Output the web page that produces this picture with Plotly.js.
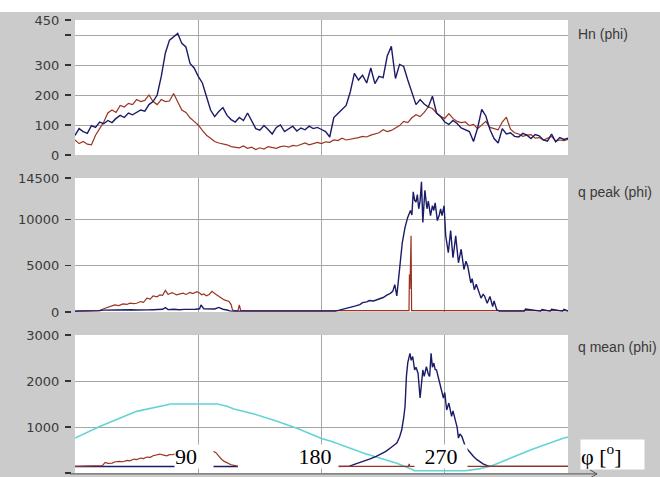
<!DOCTYPE html>
<html>
<head>
<meta charset="utf-8">
<script src="https://cdn.plot.ly/plotly-3.0.1.min.js"></script>
<style>
  html, body { margin: 0; padding: 0; background: #ffffff; width: 660px; height: 477px; overflow: hidden; }
  #chart { position: absolute; left: 0; top: 12px; width: 660px; height: 465px; }
</style>
</head>
<body>
<div id="chart"></div>
<script>
// ---------- DATA ----------
var phi = [0,3,6,9,12,15,18,21,24,27,30,33,36,39,42,45,48,51,54,57,60,63,66,69,72,75,78,81,84,87,
  90,93,96,99,102,105,108,111,114,117,120,123,126,129,132,135,138,141,144,147,150,153,156,159,162,165,168,171,174,177,
  180,183,186,189,192,195,198,201,204,207,210,213,216,219,222,225,228,231,234,237,240,243,246,249,252,255,258,261,264,267,
  270,273,276,279,282,285,288,291,294,297,300,303,306,309,312,315,318,321,324,327,330,333,336,339,342,345,348,351,354,357,360];

var hnBlue = [65,88,78,72,98,92,110,104,115,108,
  122,132,125,140,134,142,150,146,168,178,
  200,262,340,383,395,405,372,360,305,290,
  262,240,195,150,128,145,158,132,118,110,
  125,115,140,112,88,83,98,85,70,92,
  100,78,86,96,80,90,84,96,88,92,
  85,78,60,125,138,152,165,210,272,250,
  266,240,290,238,262,258,330,362,255,302,
  295,250,205,168,185,170,160,196,140,128,
  110,102,115,105,90,85,78,45,90,152,
  130,85,55,40,88,70,74,62,60,72,
  66,55,68,64,50,46,70,44,58,52,
  56];

var hnRed = [50,38,45,36,34,66,88,110,140,150,
  142,165,160,172,168,185,178,182,200,178,
  168,185,178,180,205,180,150,142,124,112,
  100,82,66,56,45,40,38,34,28,25,
  24,30,22,26,18,24,20,28,25,22,
  28,30,26,32,30,36,40,34,38,42,
  38,44,42,50,48,56,50,52,56,58,
  62,60,66,70,74,84,78,82,90,98,
  112,108,124,134,128,142,160,155,140,128,
  122,138,122,112,108,110,98,102,88,100,
  112,92,88,84,110,126,86,74,70,62,
  66,68,56,58,50,56,62,46,50,48,
  52];

var qpBluePhi = [0,15,18,21,25,29,33,37,41,45,49,53,57,61,64,66,68,72,76,80,84,88,91,92,94,98,102,105,108,111,113,116,150,190,
  193,196,199,202,205,208,210,213,215,218,220,223,225,228,230,232,233.5,235,237,239,241,243,245,246,247,248,249,250,251,252,253,254,255.5,257,258,259.6,261,262,263,264.6,266,267,268,269.5,
  270.7,272.6,274.3,276,277,278,280,282,284,285.5,286.8,289,290,291.6,293,294,296.5,298,299,301,303,305,306,308,310,328,329,340,341,347,348,356,357,360];
var qpBlue = [100,110,150,200,220,200,230,210,240,220,260,230,250,280,300,470,260,300,240,280,260,300,350,770,350,300,330,500,300,220,120,100,100,100,
  200,300,450,520,660,800,1020,1100,1240,1200,1310,1450,1570,1860,2000,2230,2960,1750,4600,7520,9160,10260,10990,10500,13000,12100,11900,12700,11170,12000,14090,9700,13180,11170,12000,10440,11500,10990,11800,9890,10500,11170,10440,11500,
  8250,6420,8800,5880,7000,8250,5330,6790,4600,5500,4960,3140,3600,2410,3000,2590,1500,1900,1750,950,1680,580,1200,220,100,100,320,100,260,100,300,100,280,100];

var qpRedPhi = [0,18,20,23,25.6,29,32,35,38,40,43,45,48,50,52.5,55,57,60,62,64,66,68,69,71,74,76,79,81,84,86,89,91,92.5,94,96,98,100,102,104,106,109,111,112.5,114,115,117,119,120,121,
  243.9,244.2,244.6,245.4,245.8,360];
var qpRed = [100,150,300,450,580,770,700,880,820,950,900,950,1130,1050,1500,1400,1750,1650,1860,1800,2340,1900,1970,2100,1860,1950,2040,1900,2120,2000,2190,2050,1860,1950,1750,1900,2230,2000,1750,1600,1310,1200,1130,800,220,150,150,770,150,
  150,4050,2500,8250,150,150];

var qmBluePhi = [0,60,119,120,186,195,200,205,210.7,215,220,224,227,231,235,237,238.6,240,241,242,243,244.6,245.5,246.6,248,249,250.5,252,253,254,255,256.6,258,259,260,261,262,263,264,265.5,266.6,268,269,270,271.4,273,274,275,276,277.5,279,280,281,282.5,284,285,287,288.6,291,293.5,296,298,301,303,360];
var qmBlue = [140,140,140,null,140,140,144,200,252,300,361,420,470,560,650,780,940,1200,1445,2100,2400,2600,2450,2530,2240,2300,2170,1630,1900,2240,2100,2310,2150,2100,2600,2300,2390,2250,2240,2050,1950,1800,1630,1750,1370,1520,1400,1230,1350,1160,1000,760,850,795,650,577,500,434,360,290,240,200,160,144,144];

var qmRedPhi = [0,18,20,22,24,27,29,32,35,38,40,43,45,48,50,52.5,55,57,60,62,64,67,69,71,74,78,82,86,90,94,98,101,102.7,104,105,107,109,111,114,117,119,120,
  186,243.5,244,244.5,360];
var qmRed = [144,144,160,230,210,216,240,252,245,274,265,303,290,325,315,347,340,375,390,412,395,375,400,397,420,410,430,420,440,430,450,470,447,400,360,300,252,220,180,160,144,null,
  144,144,200,144,144];

var cyanPhi = [0,18,45,70,104,111,116,130,147,163,180,187,211,235,245,248,285,295,304,333,357,360];
var cyanVal = [760,1010,1340,1500,1500,1450,1390,1290,1130,960,750,690,430,210,90,50,50,90,150,506,760,780];

var hnTicks = [0,100,200,300,450];
var hnTickText = ['0','100','200','300','450'];
var hnMinorTicks = [400];
var qpTicks = [0,5000,10000,14500];
var qpTickText = ['0','5000','10000','14500'];
var qmTicks = [0,1000,2000,3000];
var qmTickText = ['0','1000','2000','3000'];
var phiTicks = [90,180,270];
var phiLabels = ['90','180','270'];
var panelLabels = ['Hn (phi)','q peak (phi)','q mean (phi)'];

// ---------- STYLE ----------
var BLUE = '#1b1b68', RED = '#9a3422', CYAN = '#62d4d4';
var GRID = '#a6a6a6', BG = '#cbcbcb', TXT = '#3a3a3a';

function line(x, y, xa, ya, color, w) {
  return {x: x, y: y, xaxis: xa, yaxis: ya, type: 'scatter', mode: 'lines',
          line: {color: color, width: w}, hoverinfo: 'skip', connectgaps: false, showlegend: false};
}

var traces = [
  line(phi, hnRed, 'x', 'y', RED, 1.2),
  line(phi, hnBlue, 'x', 'y', BLUE, 1.4),
  line(qpRedPhi, qpRed, 'x2', 'y2', RED, 1.2),
  line(qpBluePhi, qpBlue, 'x2', 'y2', BLUE, 1.4),
  line(cyanPhi, cyanVal, 'x3', 'y3', CYAN, 1.6),
  line(qmBluePhi, qmBlue, 'x3', 'y3', BLUE, 1.4),
  line(qmRedPhi, qmRed, 'x3', 'y3', RED, 1.2)
];

// plot area: axis line position at x=71 px, data area starts at x=75 px
var XD0 = 4 / 497;
var tickFont = {family: 'DejaVu Sans', size: 13, color: TXT};
var labelFont = {family: 'Liberation Sans, Arial, sans-serif', size: 14, color: TXT};
function yax(dom, range, tv, tt, minorVals) {
  var ax = {domain: dom, range: range, tickmode: 'array', tickvals: tv, ticktext: tt, anchor: 'free', position: 0,
          ticks: 'outside', ticklen: 6, tickwidth: 1.2, tickcolor: '#333333', tickfont: tickFont,
          ticklabelstandoff: 3,
          showgrid: true, gridcolor: GRID, gridwidth: 1, zeroline: false, showline: false, fixedrange: true};
  if (minorVals) {
    ax.minor = {tickmode: 'array', tickvals: minorVals, ticks: 'outside', ticklen: 6, tickwidth: 1.2,
                tickcolor: '#333333', showgrid: true, gridcolor: GRID, gridwidth: 1};
  }
  return ax;
}
function xax(anchor) {
  return {domain: [XD0, 1], range: [0, 360], anchor: anchor, tickmode: 'array', tickvals: phiTicks, showticklabels: false,
          ticks: '', showgrid: true, gridcolor: GRID, gridwidth: 1, zeroline: false, showline: false, fixedrange: true};
}

var serif = {family: 'Liberation Serif, Times New Roman, serif', size: 22, color: '#000'};
var annotations = [
  {xref: 'paper', yref: 'paper', x: 1.0161, y: 0.969, xanchor: 'left', yanchor: 'middle', text: panelLabels[0], showarrow: false, font: labelFont},
  {xref: 'paper', yref: 'paper', x: 1.0161, y: 0.6203, xanchor: 'left', yanchor: 'middle', text: panelLabels[1], showarrow: false, font: labelFont},
  {xref: 'paper', yref: 'paper', x: 1.0161, y: 0.2781, xanchor: 'left', yanchor: 'middle', text: panelLabels[2], showarrow: false, font: labelFont},
  {xref: 'paper', yref: 'paper', x: 0.2475, y: 0.0375, xanchor: 'center', yanchor: 'middle', text: phiLabels[0], showarrow: false,
   font: serif, bgcolor: '#ffffff', width: 38, height: 23, borderpad: 0, align: 'left'},
  {xref: 'paper', yref: 'paper', x: 0.4909, y: 0.0375, xanchor: 'center', yanchor: 'middle', text: phiLabels[1], showarrow: false,
   font: serif, bgcolor: '#ffffff', width: 46, height: 23, borderpad: 0, align: 'center'},
  {xref: 'paper', yref: 'paper', x: 0.7445, y: 0.0375, xanchor: 'center', yanchor: 'middle', text: phiLabels[2], showarrow: false,
   font: serif, bgcolor: '#ffffff', width: 52, height: 23, borderpad: 0, align: 'center'},
  {xref: 'paper', yref: 'paper', x: 1.0241, y: 0.0408, xanchor: 'left', yanchor: 'middle', text: 'φ [<sup>o</sup>]', showarrow: false,
   font: serif, bgcolor: '#ffffff', width: 63, height: 29, borderpad: 0, align: 'left'}
];

var shapes = [
  {type: 'rect', xref: 'paper', yref: 'paper', x0: XD0, x1: 1, y0: 0.702, y1: 1, fillcolor: '#ffffff', line: {width: 0}, layer: 'below'},
  {type: 'rect', xref: 'paper', yref: 'paper', x0: XD0, x1: 1, y0: 0.3554, y1: 0.6512, fillcolor: '#ffffff', line: {width: 0}, layer: 'below'},
  {type: 'rect', xref: 'paper', yref: 'paper', x0: XD0, x1: 1, y0: 0, y1: 0.3046, fillcolor: '#ffffff', line: {width: 0}, layer: 'below'},
  {type: 'line', xref: 'paper', yref: 'paper', x0: -0.002, x1: 1.0584, y0: -0.002, y1: -0.002, line: {color: '#555555', width: 1}},
  {type: 'path', xref: 'paper', yref: 'paper', path: 'M 1.0443,0.0068 L 1.0584,-0.002 L 1.0443,-0.0108', line: {color: '#555555', width: 1}}
];

var layout = {
  width: 660, height: 465,
  margin: {l: 71, r: 92, t: 8, b: 4, pad: 0},
  paper_bgcolor: BG, plot_bgcolor: 'rgba(0,0,0,0)',
  showlegend: false,
  xaxis: xax('y'), xaxis2: xax('y2'), xaxis3: xax('y3'),
  yaxis: yax([0.702, 1], [0, 450], hnTicks, hnTickText, hnMinorTicks),
  yaxis2: yax([0.3554, 0.6512], [0, 14500], qpTicks, qpTickText),
  yaxis3: yax([0, 0.3046], [0, 3000], qmTicks, qmTickText),
  annotations: annotations,
  shapes: shapes
};

Plotly.newPlot('chart', traces, layout, {staticPlot: true, displayModeBar: false});
</script>
</body>
</html>
